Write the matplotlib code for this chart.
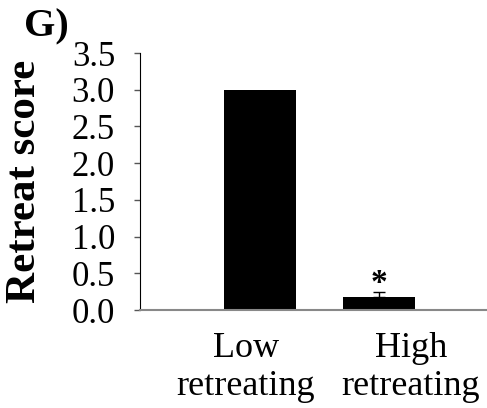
import matplotlib.pyplot as plt

# retreat scores per group
groups = ['Low\nretreating', 'High\nretreating']
scores = [3.0, 0.18]
errors = [0.0, 0.07]
yticks = [0.0, 0.5, 1.0, 1.5, 2.0, 2.5, 3.0, 3.5]

plt.rcParams['font.family'] = ['Liberation Serif', 'DejaVu Serif']

fig = plt.figure(figsize=(4.87, 4.08), dpi=100)
ax = fig.add_axes([0.2875, 0.24, 0.7125, 0.63])

x = [0, 1]
ax.bar(x, scores, width=0.61, color='black', zorder=2)
ax.errorbar(x[1], scores[1], yerr=[[0], [errors[1]]], fmt='none',
            ecolor='black', capsize=4, elinewidth=1, capthick=1, zorder=3)
ax.text(x[1], 0.36, '*', ha='center', va='center',
        fontsize=24, fontweight='bold')

ax.set_xlim(-1.01, 1.91)
ax.set_ylim(0, 3.5)
ax.set_yticks(yticks)
ax.set_yticklabels([f'{t:.1f}' for t in yticks], fontsize=25)
# labels sit a little off the bar centres
ax.set_xticks([x[0] - 0.12, x[1] + 0.27])
ax.set_xticklabels(groups, fontsize=26, linespacing=1.2)
ax.tick_params(axis='x', length=0, pad=16)
ax.tick_params(axis='y', length=4, width=1, color='#555555', pad=14)

for s in ['top', 'right']:
    ax.spines[s].set_visible(False)
ax.spines['left'].set_color('black')
ax.spines['bottom'].set_color('#888888')
ax.spines['bottom'].set_linewidth(1.5)

fig.text(0.012, 0.555, 'Retreat score', rotation=90, ha='left', va='center',
         fontsize=31, fontweight='bold')
fig.text(0.05, 0.935, 'G)', ha='left', va='center', fontsize=29,
         fontweight='bold')

fig.savefig('out.png', dpi=100)
